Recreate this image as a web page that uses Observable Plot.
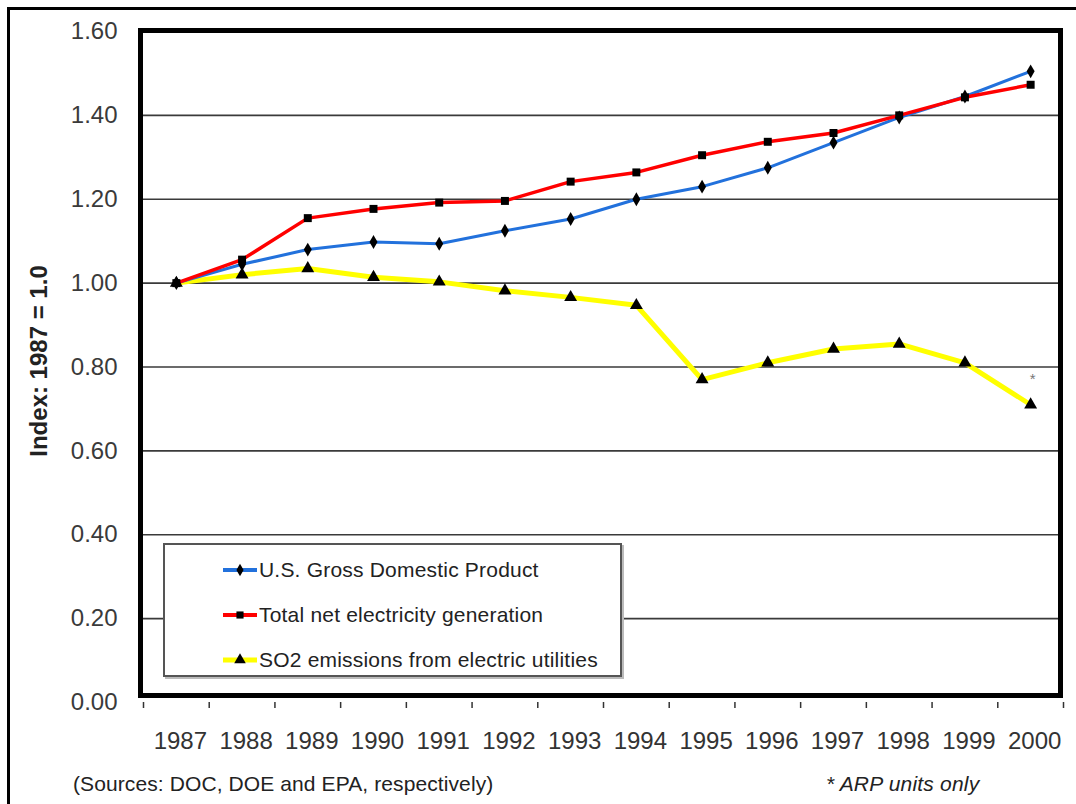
<!DOCTYPE html>
<html>
<head>
<meta charset="utf-8">
<script src="https://cdn.jsdelivr.net/npm/d3@7"></script>
<script src="https://cdn.jsdelivr.net/npm/@observablehq/plot@0.6"></script>
<style>
  html, body { margin: 0; padding: 0; background: #fff; }
  #wrap { position: relative; width: 1076px; height: 804px; overflow: hidden; background: #fff;
          font-family: "Liberation Sans", Arial, sans-serif; }
  #outer { position: absolute; left: 7px; top: 7px; width: 1100px; height: 830px;
           border-left: 3px solid #000; border-top: 3px solid #000; }
  #chart { position: absolute; left: 0; top: 0; }
  #legend { position: absolute; left: 163px; top: 543px; width: 455px; height: 130px;
            background: #fff; border: 2px solid #555; box-shadow: 2px 2px 0 #bbb; }
  .lrow { position: absolute; left: 0; height: 24px; display: flex; align-items: center; }
  .lrow svg { margin-left: 58px; }
  .lrow span { margin-left: 2px; font-size: 21px; color: #222; letter-spacing: 0.2px; white-space: nowrap; }
  #src { position: absolute; left: 73px; top: 772px; font-size: 21px; color: #222; letter-spacing: 0.1px; }
  #arp { position: absolute; left: 826px; top: 772px; font-size: 21px; font-style: italic; color: #222; letter-spacing: 0.2px; }
</style>
</head>
<body>
<div id="wrap">
  <div id="outer"></div>
  <div id="chart"></div>
  <div id="legend"></div>
  <div id="src">(Sources: DOC, DOE and EPA, respectively)</div>
  <div id="arp">* ARP units only</div>
</div>
<script>
const years = [1987,1988,1989,1990,1991,1992,1993,1994,1995,1996,1997,1998,1999,2000];
const gdp   = [1.00,1.045,1.08,1.098,1.094,1.125,1.153,1.200,1.230,1.275,1.335,1.395,1.445,1.505];
const elec  = [1.00,1.056,1.155,1.177,1.192,1.196,1.242,1.264,1.305,1.337,1.358,1.400,1.443,1.473];
const so2   = [1.00,1.020,1.035,1.014,1.003,0.982,0.966,0.947,0.770,0.810,0.843,0.855,0.810,0.710];
const yTicks = [0,0.2,0.4,0.6,0.8,1.0,1.2,1.4,1.6];
const gridLines = [0.2,0.4,0.6,0.8,1.0,1.2,1.4];
const seriesNames = ["U.S. Gross Domestic Product","Total net electricity generation","SO2 emissions from electric utilities"];
const seriesValues = [gdp, elec, so2];
const seriesColors = ["#2271dc","#ff0000","#ffff00"];
const seriesWidths = [3,3.5,5];
const seriesSymbols = ["diamond","square","triangle"];
const seriesR = [4.2,4.5,4.8];
const yTitle = "Index: 1987 = 1.0";
const noteMark = "*";

const rows = [];
seriesNames.forEach((s, i) => years.forEach((yr, j) => rows.push({series: s, year: yr, value: seriesValues[i][j]})));

const boundaries = years.map(y => y - 0.5).concat([years[years.length - 1] + 0.5]);
const drawOrder = [2, 0, 1];

const marks = [
  Plot.ruleY(gridLines, {stroke: "#3a3a3a", strokeWidth: 1.6}),
  Plot.frame({stroke: "#000", strokeWidth: 5, insetLeft: -3, insetRight: 3, insetBottom: 7, insetTop: -1}),
  Plot.axisY(yTicks, {tickSize: 0, tickPadding: 26, tickFormat: d => d.toFixed(2), fontSize: 24, fill: "#3a3a3a", label: null}),
  Plot.axisX(boundaries, {tickSize: 6, tickFormat: () => "", stroke: "#333", strokeWidth: 1.5, label: null}),
  Plot.axisX(years, {tickSize: 0, tickPadding: 29, tickFormat: d => String(d), fontSize: 24, fill: "#333", dx: 4, label: null}),
  Plot.text([yTitle], {frameAnchor: "left", rotate: -90, textAnchor: "middle", lineAnchor: "middle", dx: -104, dy: -6, fontSize: 24, fontWeight: "bold", fill: "#222"})
];
drawOrder.forEach(i => {
  const data = rows.filter(d => d.series === seriesNames[i]);
  marks.push(Plot.line(data, {x: "year", y: "value", stroke: seriesColors[i], strokeWidth: seriesWidths[i], curve: "linear"}));
});
drawOrder.forEach(i => {
  const data = rows.filter(d => d.series === seriesNames[i]);
  marks.push(Plot.dot(data, {x: "year", y: "value", symbol: () => seriesSymbols[i], r: seriesR[i], fill: "#000", stroke: "none"}));
});
const last = rows.filter(d => d.series === seriesNames[2] && d.year === years[years.length - 1]);
marks.push(Plot.text(last, {x: "year", y: "value", text: () => noteMark, dy: -26, dx: 2, fontSize: 15, fill: "#777"}));

const chart = Plot.plot({
  width: 1076,
  height: 770,
  marginLeft: 143,
  marginRight: 13,
  marginTop: 31,
  marginBottom: 68,
  x: {type: "linear", domain: [years[0] - 0.5, years[years.length - 1] + 0.5]},
  y: {domain: [0, 1.6]},
  symbol: {type: "identity"},
  style: {fontFamily: "'Liberation Sans', Arial, sans-serif", background: "transparent", overflow: "visible"},
  marks
});
document.getElementById("chart").appendChild(chart);

// Legend
const legend = d3.select("#legend");
const rowTops = [13, 58, 103];
seriesNames.forEach((name, i) => {
  const row = legend.append("div").attr("class", "lrow").style("top", rowTops[i] + "px");
  const svg = row.append("svg").attr("width", 34).attr("height", 14);
  svg.append("line").attr("x1", 0).attr("x2", 34).attr("y1", 7).attr("y2", 7)
    .attr("stroke", seriesColors[i]).attr("stroke-width", i === 2 ? 5 : 4);
  const sym = {diamond: d3.symbolDiamond, square: d3.symbolSquare, triangle: d3.symbolTriangle}[seriesSymbols[i]];
  svg.append("path").attr("transform", "translate(17,7)")
    .attr("d", d3.symbol(sym, Math.PI * seriesR[i] * seriesR[i] * 0.8)()).attr("fill", "#000");
  row.append("span").text(name);
});
</script>
</body>
</html>
